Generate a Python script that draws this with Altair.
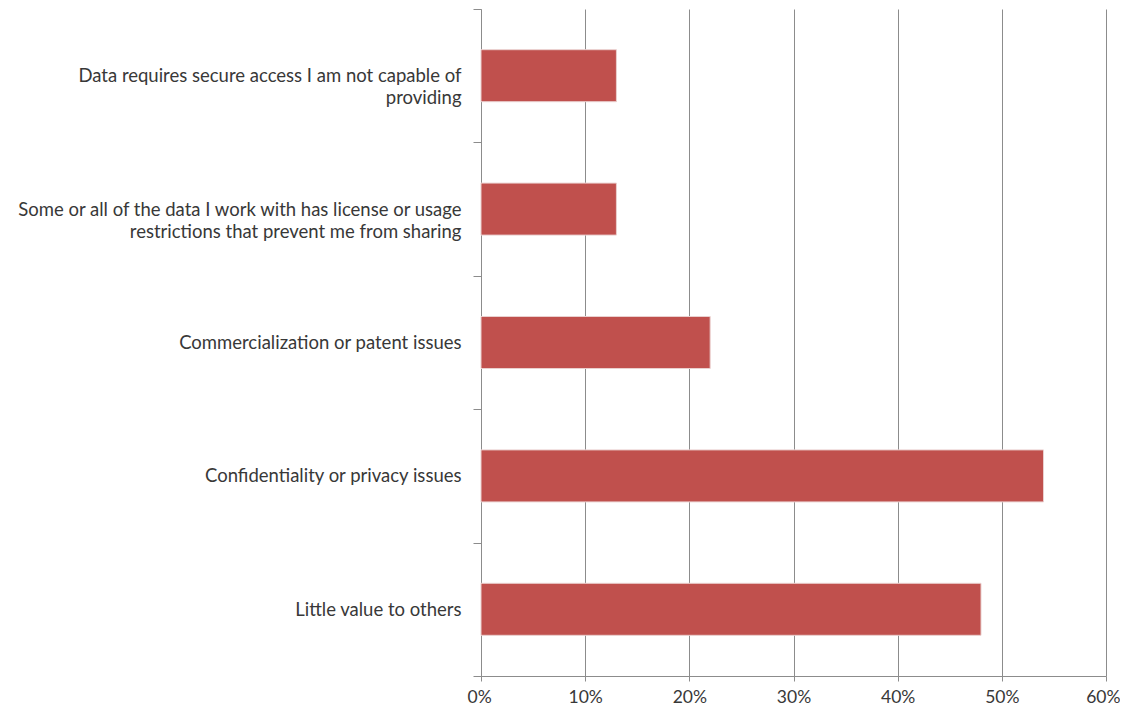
import altair as alt
import pandas as pd

categories = [
    ["Data requires secure access I am not capable of", "providing"],
    ["Some or all of the data I work with has license or usage", "restrictions that prevent me from sharing"],
    ["Commercialization or patent issues"],
    ["Confidentiality or privacy issues"],
    ["Little value to others"],
]
keys = ["c1", "c2", "c3", "c4", "c5"]
values = [0.13, 0.13, 0.22, 0.54, 0.48]
x_ticks = [0, 0.1, 0.2, 0.3, 0.4, 0.5, 0.6]

df = pd.DataFrame({"key": keys, "value": values})
expr = ""
for k, c in zip(keys, categories):
    arr = "[" + ", ".join("'" + s + "'" for s in c) + "]"
    expr += f"datum.value == '{k}' ? {arr} : "
expr += "datum.value"

font = "Lato"
text_color = "#383838"
grid_color = "#8c8c8c"

chart = alt.Chart(df).mark_bar(size=52, color="#C0504D", stroke="#ead0cf", strokeWidth=1).encode(
    x=alt.X(
        "value:Q",
        scale=alt.Scale(domain=[0, 0.6], nice=False),
        axis=alt.Axis(
            values=x_ticks, format=".0%", title=None, grid=True, gridColor=grid_color,
            domainColor=grid_color, tickColor=grid_color, tickSize=5, labelPadding=7,
            labelFont=font, labelFontSize=17.5, labelColor=text_color,
            labelFlush=1, labelFlushOffset=14,
        ),
    ),
    y=alt.Y(
        "key:N",
        sort=keys,
        scale=alt.Scale(paddingInner=0, paddingOuter=0),
        axis=alt.Axis(
            title=None, labelExpr=expr, tickBand="extent", tickSize=8, labelPadding=12,
            domainColor=grid_color, tickColor=grid_color, labelFont=font, labelFontSize=18.5,
            labelColor=text_color, labelLimit=600, labelLineHeight=22,
        ),
    ),
).properties(
    width=625,
    height=667,
    autosize=alt.AutoSizeParams(type="none"),
    padding={"left": 473, "top": 1, "right": 14, "bottom": 34},
).configure_view(stroke=None)

chart.save("out.html", embed_options={"renderer": "svg", "actions": False})
